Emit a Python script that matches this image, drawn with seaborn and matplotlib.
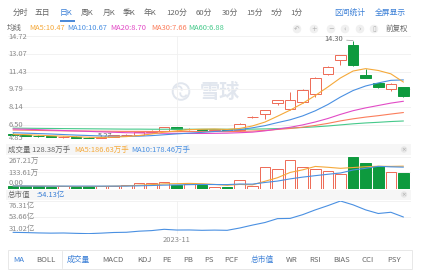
import numpy as np
import matplotlib
matplotlib.use('Agg')
import matplotlib.pyplot as plt
from matplotlib.patches import Rectangle, Circle, Arc
import seaborn as sns

sns.set_theme(style='white')
plt.rcParams['font.family'] = ['Noto Sans CJK SC', 'DejaVu Sans']

W, H = 421, 275

# ---------------- data ----------------
opens  = [5.70, 5.58, 5.52, 5.46, 5.38, 5.43, 5.35, 5.30, 5.42, 5.56, 5.62, 5.86, 5.98, 6.28, 6.10, 6.12,
          6.05, 6.10, 6.05, 7.22, 7.52, 8.55, 7.95, 8.60, 9.37, 11.22, 12.50, 13.89, 11.12, 10.38, 9.83, 10.01]
closes = [5.58, 5.52, 5.45, 5.40, 5.43, 5.35, 5.28, 5.40, 5.55, 5.60, 5.85, 5.98, 6.29, 6.12, 6.14, 6.06,
          6.10, 6.06, 6.60, 7.27, 7.89, 8.80, 8.85, 9.74, 10.85, 11.86, 12.94, 12.04, 10.85, 10.01, 10.29, 9.18]
highs  = [5.75, 5.62, 5.56, 5.50, 5.47, 5.46, 5.38, 5.44, 5.60, 5.66, 5.90, 6.05, 6.35, 6.32, 6.20, 6.16,
          6.14, 6.13, 6.65, 7.30, 7.93, 8.84, 9.55, 9.80, 10.90, 11.92, 13.00, 14.30, 11.67, 10.42, 10.38, 10.05]
lows   = [5.52, 5.46, 5.41, 5.36, 5.34, 5.31, 5.27, 5.29, 5.40, 5.52, 5.58, 5.80, 5.95, 6.08, 6.05, 6.02,
          6.01, 6.02, 6.00, 7.18, 7.06, 8.35, 7.90, 8.55, 9.09, 11.15, 12.04, 11.98, 10.80, 9.92, 9.65, 9.12]

ma5  = [5.66, 5.62, 5.57, 5.52, 5.48, 5.43, 5.38, 5.37, 5.40, 5.44, 5.54, 5.68, 5.85, 5.97, 6.08, 6.12,
        6.14, 6.10, 6.19, 6.42, 6.78, 7.32, 7.88, 8.51, 9.23, 10.02, 10.85, 11.49, 11.71, 11.54, 11.23, 10.47]
ma10 = [5.80, 5.76, 5.72, 5.68, 5.63, 5.58, 5.54, 5.50, 5.47, 5.46, 5.48, 5.53, 5.61, 5.69, 5.76, 5.83,
        5.91, 5.98, 6.08, 6.25, 6.45, 6.73, 6.99, 7.35, 7.82, 8.40, 9.09, 9.69, 10.11, 10.39, 10.63, 10.67]
ma20 = [6.15, 6.12, 6.08, 6.04, 6.00, 5.96, 5.92, 5.88, 5.84, 5.80, 5.78, 5.76, 5.75, 5.74, 5.73, 5.73,
        5.74, 5.76, 5.80, 5.85, 5.97, 6.13, 6.30, 6.52, 6.79, 7.11, 7.49, 7.83, 8.09, 8.31, 8.53, 8.70]
ma30 = [6.05, 6.03, 6.01, 5.99, 5.97, 5.96, 5.95, 5.94, 5.93, 5.92, 5.92, 5.91, 5.91, 5.91, 5.91, 5.91,
        5.91, 5.90, 5.92, 5.95, 6.01, 6.10, 6.19, 6.31, 6.47, 6.66, 6.89, 7.08, 7.24, 7.37, 7.52, 7.66]
ma60 = [6.22, 6.21, 6.20, 6.19, 6.18, 6.17, 6.16, 6.15, 6.14, 6.13, 6.13, 6.12, 6.12, 6.12, 6.12, 6.12,
        6.12, 6.12, 6.12, 6.13, 6.15, 6.18, 6.23, 6.28, 6.34, 6.42, 6.52, 6.62, 6.70, 6.76, 6.83, 6.88]

volumes  = [22, 18, 20, 15, 17, 14, 22, 20, 25, 28, 43, 45, 52, 33, 40, 30,
            15, 15, 71, 21, 180, 163, 235, 180, 163, 145, 120, 267.21, 213, 185, 138, 128.38]
vol_ma5  = [21, 20, 20, 19, 18.4, 16.8, 17.6, 17.6, 19.6, 21.8, 27.6, 32.2, 38.6, 40.2, 42.6, 40.0,
            34.0, 26.6, 34.2, 30.4, 60.4, 90.0, 134.0, 155.8, 184.2, 177.2, 168.6, 175.0, 181.6, 186.0, 184.6, 186.63]
vol_ma10 = [21, 21, 20, 20, 20, 20, 20, 20, 20, 20.1, 22.2, 24.9, 28.1, 29.9, 32.2, 33.8,
            33.1, 32.6, 37.2, 36.5, 50.2, 62.0, 80.3, 95.0, 107.3, 118.8, 129.3, 154.5, 168.7, 185.1, 180.9, 178.46]

mktcap = [32.9, 32.6, 32.1, 31.8, 32.0, 31.5, 31.1, 31.8, 32.7, 33.0, 34.5, 35.3, 37.1, 36.1, 36.2, 35.7,
          36.0, 35.7, 38.9, 42.9, 46.5, 51.9, 52.2, 57.4, 64.0, 69.9, 76.31, 71.0, 64.0, 59.0, 60.7, 54.13]

price_ticks = [14.72, 13.07, 11.43, 9.79, 8.14, 6.50, 4.85]
vol_ticks = [267.21, 133.61, 0.00]
cap_ticks = [76.31, 53.66, 31.02]
date_label = '2023-11'
date_index = 13
high_index, low_index = 27, 6

top_tabs = ['分时', '五日', '日K', '周K', '月K', '季K', '年K', '120分', '60分', '30分', '15分', '5分', '1分']
bottom_tabs = ['MA', 'BOLL', '成交量', 'MACD', 'KDJ', 'PE', 'PB', 'PS', 'PCF', '总市值', 'WR', 'RSI', 'BIAS', 'CCI', 'PSY']

# ---------------- style ----------------
UP, DOWN = '#ee6a55', '#0e9a3e'
C_MA5, C_MA10, C_MA20, C_MA30, C_MA60 = '#f5a93a', '#4a90e2', '#e24bc6', '#fb7d5b', '#46c98b'
BLUE = '#3a7fd6'
GRAY = '#666666'
LGRAY = '#8a8a8a'
GRID = '#f0f0f0'
WM = '#e1e6ee'
FS = 5.4

idx = np.arange(len(closes))
X0, X1 = 8, 411
XLIM = (-0.4, len(closes) - 0.4)


def px_axes(fig, y0, y1):
    ax = fig.add_axes([X0 / W, 1 - y1 / H, (X1 - X0) / W, (y1 - y0) / H])
    ax.set_facecolor('none')
    ax.set_xlim(*XLIM)
    for s in ax.spines.values():
        s.set_visible(False)
    ax.set_xticks([])
    ax.set_yticks([])
    return ax


def tick_labels(ax, ticks, fmt, top_va='top'):
    n = len(ticks)
    for k, t in enumerate(ticks):
        ax.axhline(t, color=GRID, lw=0.6, zorder=0)
        va = top_va if k == 0 else ('bottom' if k == n - 1 else 'center')
        dy = -0.5 if k == 0 else (0.8 if k == n - 1 else 0)
        ax.annotate(fmt(t), (0, t), xycoords=('axes fraction', 'data'), xytext=(0.4, dy),
                    textcoords='offset points', ha='left', va=va, fontsize=FS, color=LGRAY,
                    annotation_clip=False, zorder=6)


fig = plt.figure(figsize=(W / 100, H / 100), dpi=100)
bg = fig.add_axes([0, 0, 1, 1])
bg.set_xlim(0, W)
bg.set_ylim(H, 0)
bg.axis('off')

# top tab bar
tab_x = [13, 35, 60, 81, 103, 123, 144, 166, 196, 222, 246, 271, 290]
for t, x in zip(top_tabs, tab_x):
    bg.text(x, 13, t, fontsize=5.6, color=BLUE if t == '日K' else GRAY, va='center', ha='left')
bg.plot([60, 75], [20.5, 20.5], color=BLUE, lw=1.3, solid_capstyle='butt')
bg.text(334, 13, '区间统计', fontsize=5.6, color=BLUE, va='center')
bg.text(375, 13, '全屏显示', fontsize=5.6, color=BLUE, va='center')

# MA legend line
bg.text(7, 27.5, '均线', fontsize=FS, color=GRAY, va='center')
for lab, val, col, x in [('MA5', ma5[-1], C_MA5, 29), ('MA10', ma10[-1], C_MA10, 67),
                         ('MA20', ma20[-1], C_MA20, 110), ('MA30', ma30[-1], C_MA30, 151),
                         ('MA60', ma60[-1], C_MA60, 188)]:
    bg.text(x, 27.5, f'{lab}:{val:.2f}', fontsize=FS, color=col, va='center')

# toolbar icons
for x, sym in zip([297, 314, 331, 345, 360, 374], ['↶', '+', '−', '‹', '›', '▯']):
    bg.add_patch(Circle((x, 29), 4.3, fc='#f0f0f0', ec='none'))
    bg.text(x, 29, sym, fontsize=4.8, color='#b0b0b0', ha='center', va='center', family='DejaVu Sans')
bg.text(386, 29, '前复权', fontsize=FS, color=GRAY, va='center')

# watermark
bg.add_patch(Circle((181, 91.5), 8.3, fc='none', ec=WM, lw=1.4))
bg.add_patch(Arc((178.5, 89.5), 6.5, 6.5, theta1=200, theta2=20, ec=WM, lw=1.3))
bg.add_patch(Arc((183.5, 93.5), 6.5, 6.5, theta1=20, theta2=200, ec=WM, lw=1.3))
bg.text(200, 92, '雪球', fontsize=14.5, color=WM, va='center', ha='left', fontweight='bold')

# panel header bands
for y0, y1 in [(144, 155), (189.5, 199.5)]:
    bg.add_patch(Rectangle((6, y0), X1 - 6, y1 - y0, fc='#f6f6f6', ec='none'))
    yc = (y0 + y1) / 2
    bg.add_patch(Circle((404, yc), 3.2, fc='#e6e6e6', ec='none'))
    bg.text(404, yc, '×', fontsize=4, color='#aaaaaa', ha='center', va='center', family='DejaVu Sans')

bg.text(8, 149.5, f'成交量 {volumes[-1]:.2f}万手', fontsize=FS, color=GRAY, va='center')
bg.text(74, 149.5, f'MA5:{vol_ma5[-1]:.2f}万手', fontsize=FS, color=C_MA5, va='center')
bg.text(131, 149.5, f'MA10:{vol_ma10[-1]:.2f}万手', fontsize=FS, color=C_MA10, va='center')
bg.text(8, 194.5, '总市值', fontsize=FS, color=GRAY, va='center')
bg.text(36, 194.5, f':{mktcap[-1]:.2f}亿', fontsize=FS, color=BLUE, va='center')

# bottom indicator bar
bg.add_patch(Rectangle((7.5, 250), 404.5, 19, fc='white', ec='#e8e8e8', lw=0.7))
bg.plot([62, 62], [251, 268], color='#e8e8e8', lw=0.7)
bt_x = [13, 36, 67, 102, 137, 162, 183, 204, 224, 251, 286, 309, 333, 362, 387]
for t, x in zip(bottom_tabs, bt_x):
    bg.text(x, 260, t, fontsize=5.6, color=BLUE if t in ('MA', '成交量', '总市值') else GRAY,
            va='center', ha='left')

# ---------------- price panel ----------------
ax_p = px_axes(fig, 36, 143)
ax_p.set_ylim(price_ticks[-1], price_ticks[0])
tick_labels(ax_p, price_ticks, lambda v: f'{v:.2f}', top_va='center')
ax_p.axvline(date_index, color=GRID, lw=0.6, zorder=0)

o, c, h, l = map(np.array, (opens, closes, highs, lows))
up = c >= o
body_lo = np.minimum(o, c)
body_hi = np.maximum(o, c)
body_h = np.maximum(body_hi - body_lo, 0.06)
cols = np.where(up, UP, DOWN)
ax_p.vlines(idx, body_hi, h, color=cols, lw=0.7, zorder=3)
ax_p.vlines(idx, l, body_lo, color=cols, lw=0.7, zorder=3)
ax_p.bar(idx, body_h, bottom=body_lo, width=0.84, color=np.where(up, 'white', DOWN),
         edgecolor=cols, linewidth=0.7, zorder=4)

for ser, col in [(ma60, C_MA60), (ma30, C_MA30), (ma20, C_MA20), (ma10, C_MA10), (ma5, C_MA5)]:
    sns.lineplot(x=idx, y=ser, ax=ax_p, color=col, lw=0.8, legend=False, zorder=5)

ax_p.annotate(f'{highs[high_index]:.2f}', (high_index, highs[high_index]), xytext=(-7, 0.8),
              textcoords='offset points', ha='right', va='center', fontsize=FS, color=GRAY,
              arrowprops=dict(arrowstyle='-', color='#999999', lw=0.5, shrinkA=0, shrinkB=0),
              annotation_clip=False)
ax_p.annotate(f'{lows[low_index]:.2f}', (low_index, lows[low_index]), xytext=(6.5, 2),
              textcoords='offset points', ha='left', va='center', fontsize=FS, color=GRAY,
              arrowprops=dict(arrowstyle='-', color='#999999', lw=0.5, shrinkA=0, shrinkB=0),
              annotation_clip=False)
ax_p.set_xlabel('')
ax_p.set_ylabel('')

# ---------------- volume panel ----------------
ax_v = px_axes(fig, 156.5, 188.5)
ax_v.set_ylim(0, vol_ticks[0])
tick_labels(ax_v, vol_ticks, lambda v: '0.00' if v == 0 else f'{v:.2f}万')
ax_v.axvline(date_index, color=GRID, lw=0.6, zorder=0)
vcols = np.where(up, UP, DOWN)
ax_v.bar(idx, volumes, width=0.84, color=np.where(up, 'white', DOWN), edgecolor=vcols,
         linewidth=0.7, zorder=3)
sns.lineplot(x=idx, y=vol_ma5, ax=ax_v, color=C_MA5, lw=0.8, legend=False, zorder=5)
sns.lineplot(x=idx, y=vol_ma10, ax=ax_v, color=C_MA10, lw=0.8, legend=False, zorder=5)
ax_v.set_xlabel('')
ax_v.set_ylabel('')

# ---------------- market cap panel ----------------
ax_m = px_axes(fig, 201, 233.7)
ax_m.set_ylim(cap_ticks[-1], cap_ticks[0])
tick_labels(ax_m, cap_ticks, lambda v: f'{v:.2f}亿')
ax_m.axvline(date_index, color=GRID, lw=0.6, zorder=0)
sns.lineplot(x=idx, y=mktcap, ax=ax_m, color=C_MA10, lw=0.8, legend=False, zorder=5)
ax_m.annotate(date_label, (date_index, 0), xycoords=('data', 'axes fraction'), xytext=(0, -4.5),
              textcoords='offset points', ha='center', va='center', fontsize=FS, color=LGRAY,
              annotation_clip=False)
ax_m.set_xlabel('')
ax_m.set_ylabel('')

fig.savefig('out.png', dpi=100)
